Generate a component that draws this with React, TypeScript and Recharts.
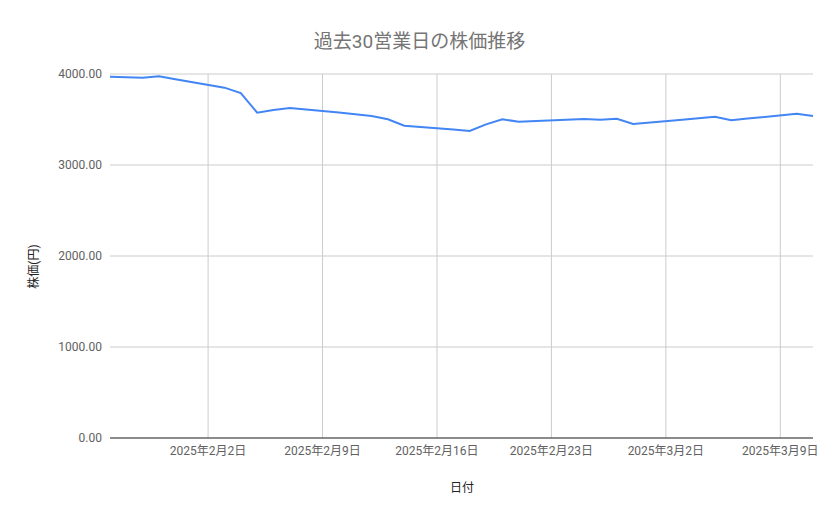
import { LineChart, Line, XAxis, YAxis, CartesianGrid } from "recharts";

// 30 business days (JST holidays 2/11 and 2/24 skipped)
const dates = [
  "2025-01-27", "2025-01-28", "2025-01-29", "2025-01-30", "2025-01-31",
  "2025-02-03", "2025-02-04", "2025-02-05", "2025-02-06", "2025-02-07",
  "2025-02-10", "2025-02-12", "2025-02-13", "2025-02-14",
  "2025-02-17", "2025-02-18", "2025-02-19", "2025-02-20", "2025-02-21",
  "2025-02-25", "2025-02-26", "2025-02-27", "2025-02-28",
  "2025-03-03", "2025-03-04", "2025-03-05", "2025-03-06", "2025-03-07",
  "2025-03-10", "2025-03-11",
];

const prices = [
  3970, 3965, 3960, 3975, 3942,
  3850, 3790, 3575, 3605, 3625,
  3578, 3538, 3502, 3432,
  3390, 3374, 3447, 3502, 3476,
  3505, 3498, 3509, 3451,
  3498, 3514, 3531, 3491, 3510,
  3564, 3538,
];

const xTickDates = ["2025-02-02", "2025-02-09", "2025-02-16", "2025-02-23", "2025-03-02", "2025-03-09"];
const yTicks = [0, 1000, 2000, 3000, 4000];

const toMs = (d: string) => Date.parse(d + "T00:00:00Z");

const data = dates.map((d, i) => ({ t: toMs(d), price: prices[i] }));
const xTicks = xTickDates.map(toMs);
const xDomain = [toMs("2025-01-27"), toMs("2025-03-11")];

const fmtDate = (v: number) => {
  const d = new Date(v);
  return `${d.getUTCFullYear()}年${d.getUTCMonth() + 1}月${d.getUTCDate()}日`;
};

const font = "Roboto, 'Noto Sans CJK JP', sans-serif";

// vertical grid only at the date ticks (no lines on the plot edges)
const gridX = ({ xAxis, offset }: any) => {
  if (xAxis && typeof xAxis.scale === "function") return xTicks.map((t) => xAxis.scale(t));
  const [a, b] = xDomain;
  return xTicks.map((t) => offset.left + ((t - a) / (b - a)) * offset.width);
};

export default function App() {
  return (
    <div style={{ position: "absolute", left: 0, top: 0, width: 839, height: 519, fontFamily: font, background: "#fff" }}>
      <div
        style={{
          position: "absolute",
          top: 26,
          left: 0,
          width: 839,
          textAlign: "center",
          fontSize: 19,
          color: "#757575",
        }}
      >
        過去30営業日の株価推移
      </div>
      <LineChart width={839} height={519} data={data} margin={{ top: 74, right: 26, left: 0, bottom: 0 }}>
        <CartesianGrid stroke="#cccccc" verticalCoordinatesGenerator={gridX} />
        <XAxis
          dataKey="t"
          type="number"
          scale="time"
          domain={xDomain}
          ticks={xTicks}
          tickFormatter={fmtDate}
          height={81}
          stroke="#333333"
          tickLine={false}
          tick={{ fill: "#616161", fontSize: 12, fontFamily: font }}
        />
        <YAxis
          width={110}
          domain={[0, 4000]}
          ticks={yTicks}
          tickFormatter={(v: number) => v.toFixed(2)}
          axisLine={false}
          tickLine={false}
          tick={{ fill: "#616161", fontSize: 12, fontFamily: font }}
        />
        <Line
          type="linear"
          dataKey="price"
          stroke="#4285f4"
          strokeWidth={2}
          dot={false}
          isAnimationActive={false}
        />
      </LineChart>
      <div
        style={{
          position: "absolute",
          top: 478,
          left: 412,
          width: 100,
          textAlign: "center",
          fontSize: 12,
          color: "#222",
        }}
      >
        日付
      </div>
      <div
        style={{
          position: "absolute",
          top: 258,
          left: -18,
          width: 100,
          textAlign: "center",
          fontSize: 12,
          color: "#222",
          transform: "rotate(-90deg)",
        }}
      >
        株価(円)
      </div>
    </div>
  );
}
